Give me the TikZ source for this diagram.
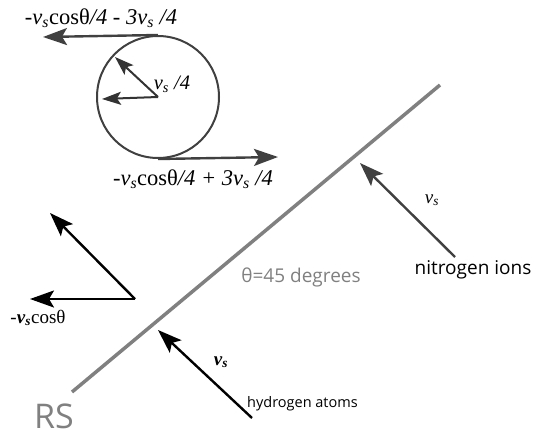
\documentclass[tikz,border=0pt]{standalone}
\usepackage{fontspec}
\setmainfont{Liberation Serif}
\newfontfamily\sansfont{Open Sans}
\usetikzlibrary{arrows.meta}
\newcommand{\vsub}{\textit{v}\textsubscript{\textit{s}}}
\newcommand{\vsbold}{\textbf{\textit{v}\textsubscript{\textit{s}}}}

\begin{document}
\begin{tikzpicture}[x=1pt,y=-1pt,
    vec/.style={-{Stealth[length=24pt,width=17pt,inset=5pt]}, line width=2.4pt},
    smallvec/.style={-{Stealth[length=19pt,width=13pt,inset=4pt]}, line width=2pt},
    lbl/.style={font=\fontsize{19}{22}\selectfont, inner sep=0pt},
    biglbl/.style={font=\fontsize{22.5}{26}\selectfont, inner sep=0pt},
    sans/.style={font=\sansfont\fontsize{14.5}{17}\selectfont, inner sep=0pt}]
  \useasboundingbox (0,0) rectangle (533,436);
  % Surface RS
  \coordinate (rslow) at (72,392);
  \coordinate (rshigh) at (440,85);
  \draw[gray, line width=3.5pt] (rslow) -- (rshigh);
  \node[font=\sansfont\fontsize{34}{36}\selectfont, text=gray, inner sep=0pt] (rs) at (54,416) {RS};
  \node[sans, text=gray, font=\sansfont\fontsize{19}{22}\selectfont] (angle) at (301,277) {θ=45 degrees};
  % Gyration circle
  \node[draw=black!75, line width=2pt, circle, minimum size=122pt, inner sep=0pt] (gyro) at (158,97) {};
  \coordinate (toptip) at (43,37);
  \coordinate (bottip) at (278,157);
  \coordinate (upin) at (115,57);
  \coordinate (leftin) at (102,99);
  \draw[vec, black!75] (gyro.north) -- (toptip);
  \draw[vec, black!75] (gyro.south) -- (bottip);
  \draw[smallvec, black!80] (gyro.center) -- (upin);
  \draw[smallvec, black!80] (gyro.center) -- (leftin);
  \node[biglbl] (toplbl) at (101,18) {-\vsub cosθ\textit{/4 - 3}\vsub\textit{ /4}};
  \node[biglbl] (botlbl) at (193,179) {-\vsub cosθ\textit{/4 + 3}\vsub\textit{ /4}};
  \node[lbl, font=\fontsize{20.5}{24}\selectfont] (radlbl) at (172,84) {\vsub\textit{ /4}};
  % Reflected vectors
  \coordinate (corner) at (135,299);
  \coordinate (refltip) at (50,213);
  \coordinate (projtip) at (30,299);
  \draw[vec] (corner) -- (refltip);
  \draw[vec] (corner) -- (projtip);
  \node[lbl] (projlbl) at (38,318) {-\vsbold cosθ};
  % Hydrogen atoms
  \coordinate (htail) at (252,418);
  \coordinate (hhead) at (158,330);
  \draw[vec] (htail) -- (hhead);
  \node[lbl] (hvs) at (221,362) {\vsbold};
  \node[sans, anchor=west] (hlbl) at (247,404) {hydrogen atoms};
  % Nitrogen ions
  \coordinate (ntail) at (455,257);
  \coordinate (nhead) at (360,163);
  \draw[vec, black!75] (ntail) -- (nhead);
  \node[lbl] (nvs) at (432,200) {\vsub};
  \node[sans, font=\sansfont\fontsize{19}{22}\selectfont] (nlbl) at (473,270) {nitrogen ions};
\end{tikzpicture}
\end{document}
